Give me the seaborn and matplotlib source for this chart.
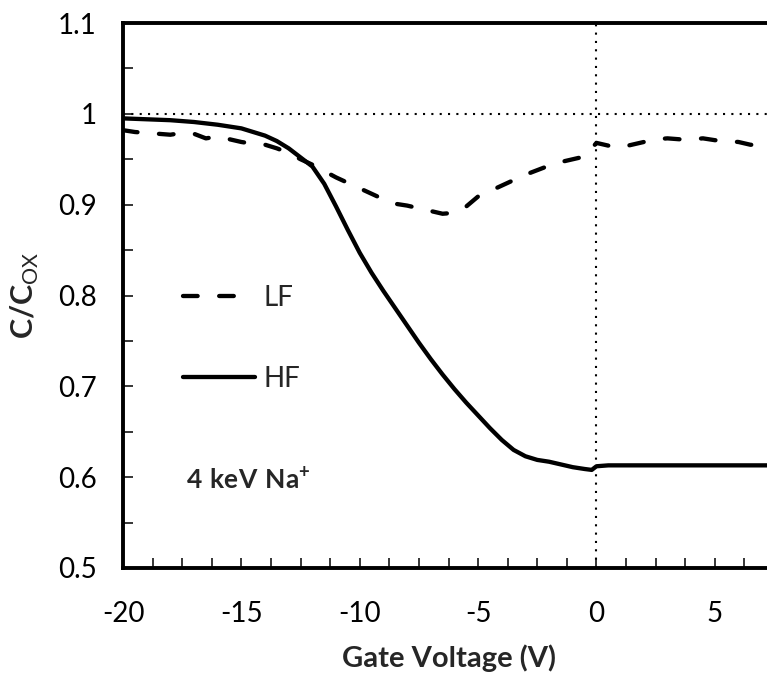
import numpy as np
import pandas as pd
import matplotlib
matplotlib.use('Agg')
import matplotlib.pyplot as plt
from matplotlib.ticker import MultipleLocator, FuncFormatter
import seaborn as sns

# Data
hf_v = [-20, -19, -18, -17, -16, -15, -14.5, -14, -13.5, -13, -12.5, -12, -11.5, -11,
        -10.5, -10, -9.5, -9, -8.5, -8, -7.5, -7, -6.5, -6, -5.5, -5, -4.5, -4, -3.5,
        -3, -2.5, -2, -1.5, -1, -0.5, -0.2, 0, 0.5, 1, 2, 3, 4, 5, 6, 7, 7.5]
hf_c = [0.995, 0.994, 0.993, 0.991, 0.988, 0.984, 0.980, 0.976, 0.970, 0.962, 0.952, 0.942,
        0.923, 0.898, 0.872, 0.847, 0.825, 0.805, 0.786, 0.767, 0.748, 0.730, 0.713, 0.697,
        0.682, 0.668, 0.654, 0.641, 0.630, 0.623, 0.619, 0.617, 0.614, 0.611, 0.609, 0.608,
        0.612, 0.613, 0.613, 0.613, 0.613, 0.613, 0.613, 0.613, 0.613, 0.613]

lf_v = [-20, -19.5, -19, -18.5, -18, -17.5, -17, -16.5, -16, -15.5, -15, -14.5, -14, -13.5,
        -13, -12.5, -12, -11.5, -11, -10.5, -10, -9.5, -9, -8.5, -8, -7.5, -7, -6.5, -6,
        -5.5, -5, -4.5, -4, -3.5, -3, -2.5, -2, -1.5, -1, -0.5, -0.2, 0, 0.5, 1, 1.5, 2,
        2.5, 3, 3.5, 4, 4.5, 5, 5.5, 6, 6.5, 7, 7.5]
lf_c = [0.982, 0.980, 0.979, 0.978, 0.977, 0.979, 0.978, 0.973, 0.975, 0.972, 0.969, 0.967,
        0.966, 0.962, 0.957, 0.950, 0.944, 0.937, 0.930, 0.924, 0.918, 0.912, 0.906, 0.901,
        0.899, 0.896, 0.893, 0.890, 0.891, 0.898, 0.909, 0.915, 0.921, 0.927, 0.933, 0.938,
        0.943, 0.947, 0.950, 0.953, 0.962, 0.968, 0.965, 0.963, 0.966, 0.969, 0.972, 0.973,
        0.972, 0.972, 0.973, 0.971, 0.970, 0.969, 0.966, 0.965, 0.966]

sns.set_style('white')
plt.rcParams['font.family'] = ['Lato', 'DejaVu Sans']
plt.rcParams['mathtext.fontset'] = 'custom'
plt.rcParams['mathtext.rm'] = 'Lato'
plt.rcParams['mathtext.bf'] = 'Lato:bold'
plt.rcParams['axes.unicode_minus'] = False

fig = plt.figure(figsize=(7.67, 6.77), dpi=100)
ax = fig.add_axes([123 / 767, 109 / 677, 651 / 767, 545 / 677])

# reference lines
ax.axhline(1.0, color='black', lw=1.5, linestyle=(0, (1, 3)), zorder=1)
ax.axvline(0.0, color='black', lw=1.5, linestyle=(0, (1, 3)), zorder=1)

sns.lineplot(x=lf_v, y=lf_c, ax=ax, color='black', lw=3.1, label='LF',
             linestyle=(0, (3.4, 5.0)), dash_capstyle='round')
sns.lineplot(x=hf_v, y=hf_c, ax=ax, color='black', lw=3.1, label='HF')

ax.set_xlim(-20, 7.5)
ax.set_ylim(0.5, 1.1)
ax.xaxis.set_major_locator(MultipleLocator(5))
ax.xaxis.set_minor_locator(MultipleLocator(1.25))
ax.yaxis.set_major_locator(MultipleLocator(0.1))
ax.yaxis.set_minor_locator(MultipleLocator(0.05))
ax.yaxis.set_major_formatter(FuncFormatter(lambda v, p: f'{v:g}'))
ax.xaxis.set_major_formatter(FuncFormatter(lambda v, p: f'{v:g}'))

ax.tick_params(which='both', direction='in', length=7, width=1.1, colors='black',
               bottom=True, left=True, top=False, right=False)
ax.tick_params(which='major', labelsize=20, pad=19)
ax.tick_params(axis='x', which='major', pad=24)

for side in ['left', 'bottom', 'top']:
    ax.spines[side].set_linewidth(2.8)
    ax.spines[side].set_color('black')
ax.spines['right'].set_visible(False)

ax.set_xlabel('Gate Voltage (V)', fontsize=21, fontweight='bold', labelpad=12)
ax.set_ylabel(r'$\mathbf{C/C}_{\mathrm{OX}}$', fontsize=22, labelpad=12)

leg = ax.legend(loc='upper left', bbox_to_anchor=(0.092, 0.52), frameon=False,
                fontsize=20, handlelength=2.6, handletextpad=0.3, labelspacing=2.0,
                borderpad=0, borderaxespad=0)

ax.text(0.097, 0.16, r'$\mathbf{4\ keV\ Na^{+}}$', transform=ax.transAxes,
        fontsize=19, ha='left', va='center')

fig.savefig('out.png', dpi=100)
